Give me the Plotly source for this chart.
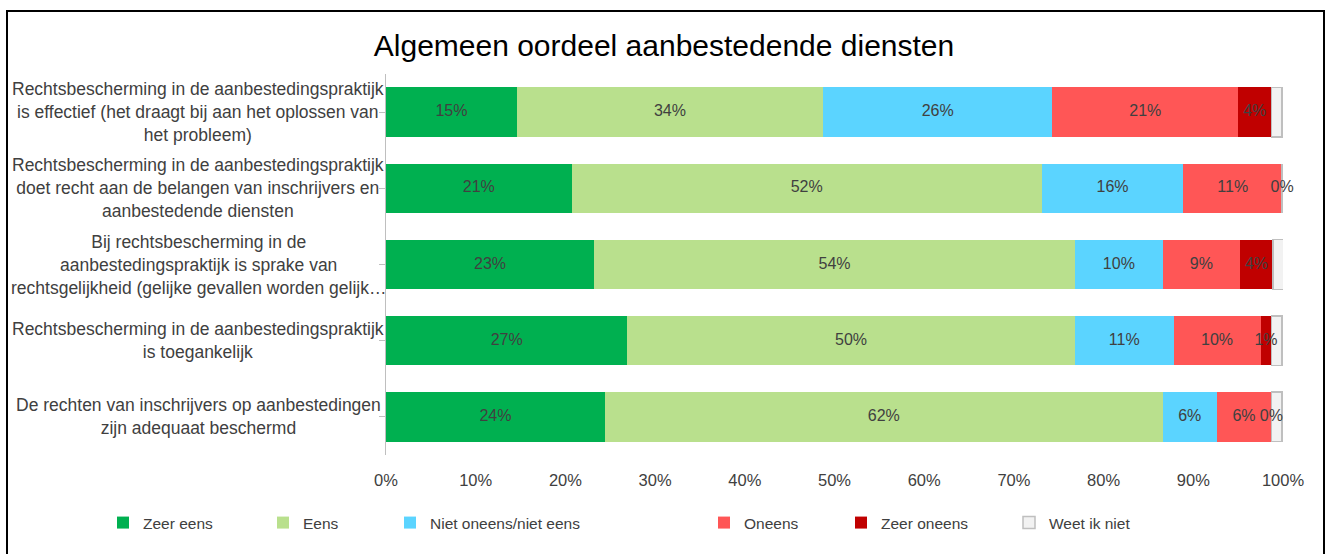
import plotly.graph_objects as go

categories = [
    "Rechtsbescherming in de aanbestedingspraktijk<br>is effectief (het draagt bij aan het oplossen van<br>het probleem)",
    "Rechtsbescherming in de aanbestedingspraktijk<br>doet recht aan de belangen van inschrijvers en<br>aanbestedende diensten",
    "Bij rechtsbescherming in de<br>aanbestedingspraktijk is sprake van<br>rechtsgelijkheid (gelijke gevallen worden gelijk…",
    "Rechtsbescherming in de aanbestedingspraktijk<br>is toegankelijk",
    "De rechten van inschrijvers op aanbestedingen<br>zijn adequaat beschermd",
]
series_names = ["Zeer eens", "Eens", "Niet oneens/niet eens", "Oneens", "Zeer oneens", "Weet ik niet"]
zeer_eens = [14.6, 20.7, 23.2, 26.9, 24.4]
eens = [34.1, 52.4, 53.6, 49.9, 62.2]
niet_oneens = [25.6, 15.8, 9.8, 11.0, 6.0]
oneens = [20.7, 11.0, 8.6, 9.7, 6.1]
zeer_oneens = [3.7, 0.0, 3.7, 1.2, 0.0]
weet_niet = [1.2, 0.0, 1.2, 1.2, 1.2]
colors = ["#00B050", "#B9E08D", "#5BD4FF", "#FF5656", "#C00000", "#F2F2F2"]
show_labels = [True, True, True, True, True, False]
xtick_vals = [0, 10, 20, 30, 40, 50, 60, 70, 80, 90, 100]
xtick_text = ["0%", "10%", "20%", "30%", "40%", "50%", "60%", "70%", "80%", "90%", "100%"]

values = [zeer_eens, eens, niet_oneens, oneens, zeer_oneens, weet_niet]

FONT = "Liberation Sans Narrow, Arial Narrow, Liberation Sans, Arial"
TXT = "#404040"

W, H = 1330, 554
L, R, T, B = 386, 1283, 74, 455
pw, ph = R - L, B - T

def px_x(px):
    return (px - L) / pw

def px_y(py):
    return (B - py) / ph

fig = go.Figure()
idx = list(range(len(categories)))

legend_text_starts = [143, 303, 430, 744, 881, 1049]
cum = [0.0] * len(categories)
lab_x, lab_y, lab_t = [], [], []
for k, (name, vals, col) in enumerate(zip(series_names, values, colors)):
    lname = "legend" if k == 0 else f"legend{k+1}"
    fig.add_trace(go.Bar(
        y=idx, x=vals, name=name, orientation="h",
        marker=dict(color=col,
                    line=dict(color="#BFBFBF" if name == "Weet ik niet" else col,
                              width=1.5 if name == "Weet ik niet" else 0)),
        legend=lname, hoverinfo="skip",
    ))
    if show_labels[k]:
        for i, v in enumerate(vals):
            lab_x.append(cum[i] + v / 2)
            lab_y.append(i)
            lab_t.append(f"{round(v):.0f}%")
    cum = [c + v for c, v in zip(cum, vals)]

fig.add_trace(go.Scatter(
    x=lab_x, y=lab_y, text=lab_t, mode="text", cliponaxis=False,
    textfont=dict(family=FONT, size=16, color=TXT),
    showlegend=False, hoverinfo="skip",
))

for i, c in enumerate(categories):
    fig.add_annotation(
        x=px_x(198), xref="paper", y=i, yref="y", text=c, showarrow=False,
        xanchor="center", yanchor="middle", align="center",
        font=dict(family=FONT, size=17.5, color=TXT),
    )

layout_legends = {}
for k, ts in enumerate(legend_text_starts):
    lname = "legend" if k == 0 else f"legend{k+1}"
    layout_legends[lname] = dict(
        x=px_x(ts - 40), xanchor="left", y=px_y(523), yanchor="middle",
        orientation="h", font=dict(family=FONT, size=15.5, color=TXT),
        bgcolor="rgba(0,0,0,0)", itemwidth=30,
    )

fig.update_layout(
    width=W, height=H,
    margin=dict(l=L, r=W - R, t=T, b=H - B),
    barmode="stack", bargap=0.35,
    plot_bgcolor="white", paper_bgcolor="white",
    title=dict(text="Algemeen oordeel aanbestedende diensten",
               x=664 / W, xanchor="center", y=1 - 45 / H, yanchor="middle",
               yref="container",
               font=dict(family=FONT, size=30, color="black")),
    xaxis=dict(range=[0, 100], tickmode="array", tickvals=xtick_vals, ticktext=xtick_text,
               showgrid=False, zeroline=False, showline=False,
               tickfont=dict(family=FONT, size=16.5, color=TXT),
               ticks="outside", ticklen=0, ticklabelstandoff=10),
    yaxis=dict(tickvals=idx, range=[4.5, -0.5], showticklabels=False,
               showgrid=False, zeroline=False, showline=True,
               linecolor="#BFBFBF", linewidth=1,
               ticks="outside", ticklen=6, tickcolor="#BFBFBF", tickson="boundaries",
               type="linear"),
    shapes=[dict(type="rect", xref="paper", yref="paper",
                 x0=px_x(7), x1=px_x(1324), y0=px_y(570), y1=px_y(11),
                 line=dict(color="black", width=2), fillcolor="rgba(0,0,0,0)", layer="below")],
    **layout_legends,
)

fig.write_html(
    "out.html",
    config={"displayModeBar": False},
    post_script="document.body.style.margin='0';document.documentElement.style.overflow='hidden';document.body.style.overflow='hidden';",
)
